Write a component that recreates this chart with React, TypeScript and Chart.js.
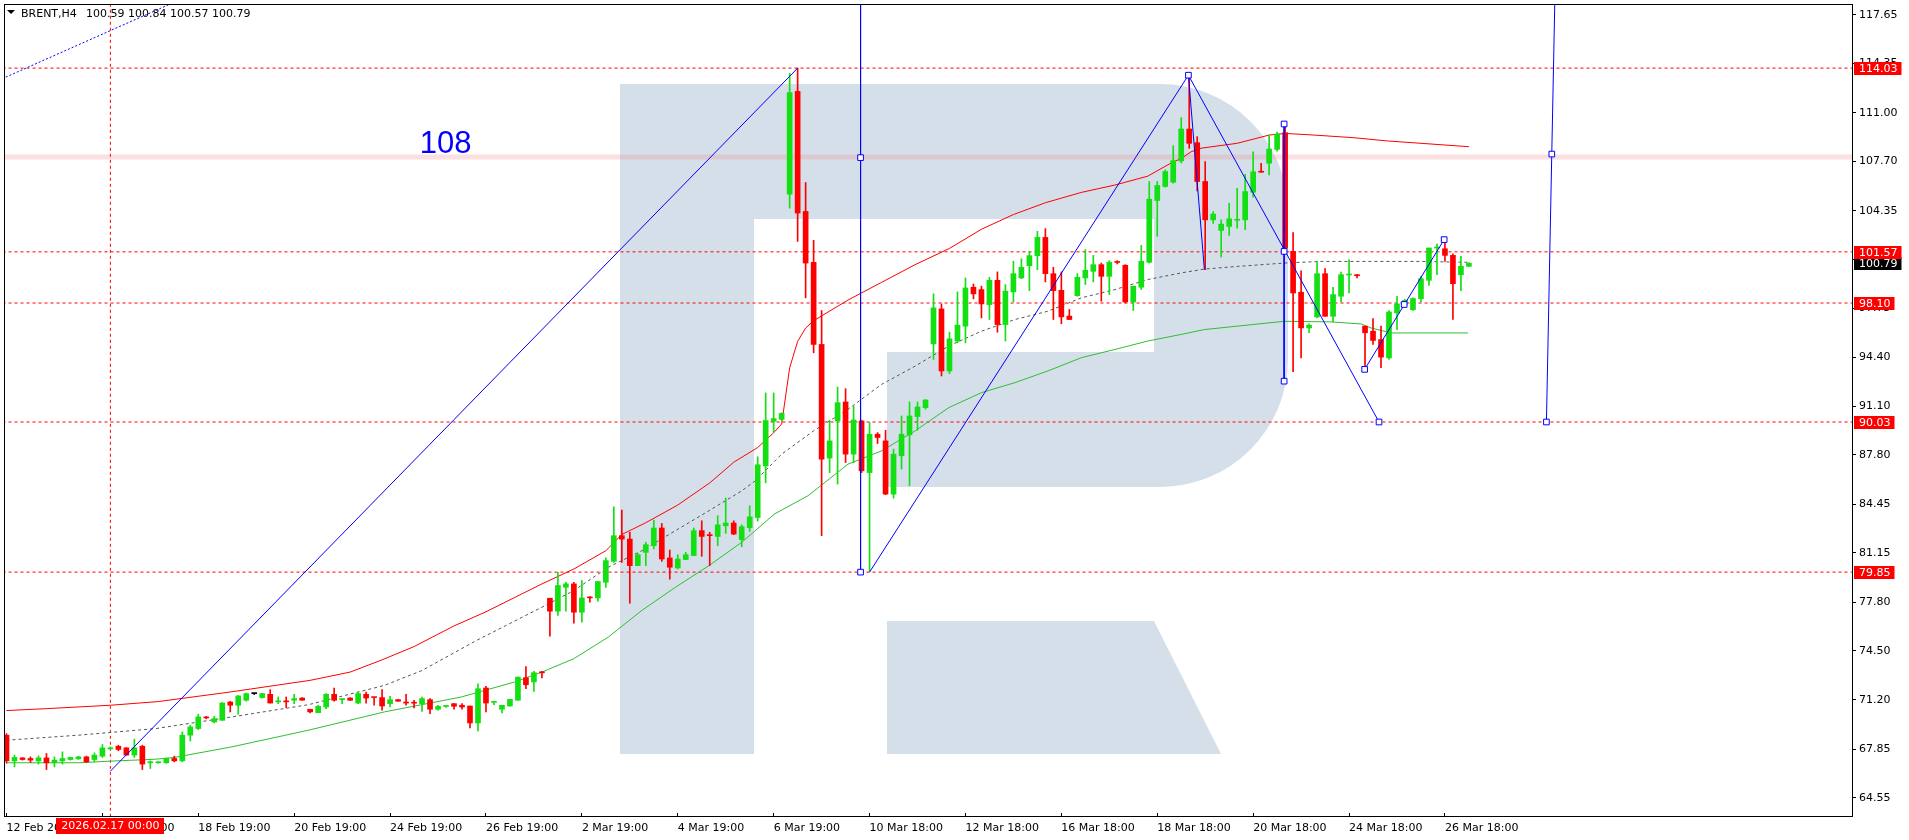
import React, { useEffect, useRef } from 'react';
import { Chart, registerables } from 'chart.js';

Chart.register(...registerables);

const FONT = 'DejaVu Sans';
const SYMBOL = 'BRENT';
const TIMEFRAME = 'H4';

// ---- candle data (one H4 bar per entry) ----
const opens = [
  68.79, 67.05, 67.25, 67.21, 67.05, 67.25, 66.92, 67.05, 67.14, 67.19,
  67.32, 67.14, 67.37, 67.86, 68.04, 67.93, 67.44, 68.04, 66.92, 66.92,
  66.92, 67.21, 67.05, 68.79, 69.24, 70.03, 69.69, 69.8, 71.04, 70.82,
  71.16, 71.61, 71.34, 71.56, 71.05, 71.09, 71.16, 71.31, 70.55, 70.32,
  70.7, 71.56, 71.2, 71.31, 70.97, 71.56, 71.35, 71.34, 70.93, 71.2,
  71.04, 70.98, 70.93, 71.2, 70.55, 70.74, 70.93, 70.82, 70.77, 69.62,
  71.99, 71.02, 70.55, 70.77, 71.16, 72.69, 72.4, 73.07, 78.08, 77.2,
  78.82, 79.05, 77.13, 78.12, 78.1, 79.16, 80.58, 82.32, 82.09, 80.29,
  81.19, 81.64, 82.84, 80.81, 80.13, 80.7, 80.97, 82.66, 82.33, 82.27,
  82.99, 83.18, 82.05, 82.86, 83.55, 87.05, 90.08, 90.21, 105.48, 112.45,
  104.31, 100.86, 95.29, 87.58, 90.1, 91.39, 87.85, 90.1, 86.6, 89.2,
  88.75, 85.14, 87.74, 89.16, 90.4, 91.0, 95.33, 97.7, 93.49, 95.52,
  96.53, 99.17, 99.01, 97.99, 99.64, 96.64, 98.85, 99.8, 100.63, 101.31,
  102.55, 100.09, 98.96, 97.21, 98.6, 99.8, 100.25, 100.7, 99.91, 100.87,
  100.66, 98.17, 99.17, 100.86, 105.05, 106.0, 106.29, 107.73, 109.9, 108.97,
  106.34, 103.74, 103.02, 103.29, 103.71, 103.74, 105.61, 107.0, 107.58, 108.52,
  109.65, 101.6, 98.83, 96.41, 97.16, 100.09, 97.2, 98.56, 100.0, 100.02,
  96.53, 96.19, 95.62, 94.38, 97.43, 97.99, 97.65, 98.4, 99.64, 101.83,
  101.78, 101.33, 100.02, 100.59,
];
const highs = [
  68.9, 67.44, 67.28, 67.32, 67.39, 67.55, 67.32, 67.66, 67.3, 67.37,
  67.37, 67.59, 68.16, 68.0, 68.11, 67.95, 68.52, 68.11, 67.05, 67.0,
  67.24, 67.37, 69.01, 69.46, 70.21, 70.07, 70.07, 71.02, 71.09, 71.49,
  71.65, 71.63, 71.63, 71.88, 71.38, 71.38, 71.56, 71.34, 70.55, 70.82,
  71.61, 71.99, 71.27, 71.34, 71.72, 71.72, 71.35, 71.88, 71.43, 71.22,
  71.56, 71.16, 71.38, 71.27, 70.82, 70.78, 70.93, 70.93, 70.77, 72.28,
  72.1, 71.09, 70.82, 71.22, 72.73, 73.45, 73.12, 73.12, 78.08, 79.84,
  79.16, 79.16, 79.27, 78.19, 79.21, 80.81, 84.28, 84.06, 82.55, 81.12,
  81.87, 83.38, 83.15, 81.35, 81.03, 81.19, 82.84, 83.33, 82.55, 83.67,
  84.87, 83.33, 83.06, 84.35, 87.67, 92.0, 92.0, 90.66, 113.67, 114.03,
  106.27, 102.35, 97.59, 90.15, 92.4, 92.29, 91.12, 90.15, 89.99, 89.31,
  89.47, 88.19, 90.44, 91.39, 91.39, 91.56, 98.72, 98.04, 96.12, 98.85,
  99.8, 99.39, 99.24, 99.84, 100.21, 99.35, 100.93, 101.1, 101.6, 102.96,
  103.14, 100.52, 100.21, 97.66, 100.09, 101.72, 101.33, 100.81, 100.97, 100.97,
  100.7, 99.24, 102.01, 106.34, 106.34, 107.13, 108.77, 110.67, 113.55, 109.38,
  107.69, 104.3, 103.74, 104.87, 105.88, 106.83, 108.36, 107.57, 109.49, 109.7,
  110.28, 102.88, 100.29, 96.68, 100.92, 100.43, 99.16, 100.2, 101.04, 100.02,
  96.53, 97.04, 96.53, 97.59, 98.56, 98.35, 98.45, 99.91, 101.83, 102.1,
  102.28, 101.44, 101.26, 100.84,
];
const lows = [
  66.9, 66.64, 67.1, 66.94, 66.83, 66.46, 66.64, 66.83, 67.1, 67.14,
  66.94, 66.98, 67.28, 67.82, 67.73, 67.44, 67.28, 66.46, 66.53, 66.88,
  66.88, 66.98, 66.98, 68.4, 69.17, 69.9, 69.62, 69.8, 70.37, 70.21,
  71.1, 71.55, 71.3, 70.97, 70.93, 70.66, 70.93, 71.16, 70.3, 70.32,
  70.59, 71.09, 70.93, 71.14, 70.93, 70.97, 70.82, 70.48, 70.7, 71.09,
  70.82, 70.64, 70.41, 70.25, 70.48, 70.68, 70.55, 70.55, 69.28, 69.08,
  70.37, 70.86, 70.3, 70.75, 71.16, 71.94, 71.76, 72.67, 75.51, 76.91,
  77.2, 76.39, 76.46, 77.81, 77.88, 78.82, 80.51, 80.51, 77.74, 80.29,
  80.29, 81.42, 80.58, 79.37, 80.06, 80.7, 80.97, 80.92, 80.29, 81.64,
  82.48, 82.39, 81.57, 82.61, 83.31, 85.9, 89.33, 90.13, 104.53, 102.28,
  98.45, 94.72, 82.32, 86.6, 85.82, 87.28, 87.28, 86.6, 79.9, 88.57,
  85.1, 84.87, 86.83, 85.71, 89.47, 90.9, 94.27, 93.15, 93.31, 95.4,
  95.4, 98.38, 97.09, 96.98, 96.12, 95.52, 98.17, 99.75, 98.94, 100.36,
  99.53, 96.98, 96.69, 96.98, 98.56, 99.35, 99.53, 98.22, 98.67, 100.75,
  98.1, 97.59, 99.01, 100.81, 102.62, 105.95, 106.23, 107.6, 108.59, 105.7,
  100.36, 103.5, 101.22, 102.68, 103.18, 103.07, 105.28, 106.97, 106.79, 108.4,
  101.5, 93.44, 94.38, 96.08, 97.09, 97.2, 96.82, 98.17, 98.78, 99.8,
  93.6, 95.29, 93.71, 94.27, 96.3, 97.9, 97.6, 98.17, 99.3, 100.02,
  100.92, 96.98, 98.94, 100.57,
];
const closes = [
  67.05, 67.28, 67.14, 67.1, 67.25, 66.92, 67.1, 67.21, 67.28, 67.32,
  66.98, 67.44, 67.93, 67.93, 67.82, 67.44, 67.93, 66.83, 66.98, 66.98,
  67.21, 67.05, 68.79, 69.35, 70.03, 69.96, 69.91, 70.97, 70.82, 71.45,
  71.61, 71.61, 71.61, 70.97, 71.09, 71.05, 71.27, 71.16, 70.37, 70.75,
  71.56, 71.16, 71.27, 71.16, 71.61, 71.31, 71.34, 70.77, 71.2, 71.09,
  70.97, 70.96, 71.27, 70.55, 70.75, 70.76, 70.75, 70.7, 69.62, 71.94,
  70.97, 71.05, 70.82, 71.22, 72.73, 72.21, 73.03, 73.02, 77.2, 78.94,
  79.05, 77.13, 78.1, 78.1, 79.21, 80.63, 82.32, 82.09, 80.29, 81.03,
  81.71, 82.84, 80.74, 80.18, 80.74, 81.03, 82.66, 82.27, 82.32, 83.06,
  83.18, 82.43, 82.93, 83.6, 87.13, 90.13, 90.26, 90.61, 112.37, 104.2,
  100.81, 95.29, 87.51, 88.75, 91.34, 87.85, 90.17, 86.72, 89.2, 88.98,
  85.14, 87.85, 89.2, 90.44, 91.05, 91.52, 97.77, 93.49, 95.67, 96.6,
  99.12, 98.72, 98.04, 99.64, 96.64, 98.9, 100.09, 100.52, 101.31, 102.55,
  100.09, 98.94, 97.16, 96.98, 99.84, 100.32, 100.7, 99.91, 100.86, 100.85,
  98.17, 99.24, 100.93, 105.14, 106.07, 107.02, 107.76, 109.9, 108.93, 106.34,
  103.74, 104.13, 103.45, 103.81, 103.74, 105.66, 107.0, 106.97, 108.54, 109.56,
  101.83, 98.78, 96.41, 96.59, 100.09, 97.2, 98.67, 100.02, 100.03, 99.95,
  96.08, 95.56, 94.43, 97.49, 98.04, 98.28, 98.4, 99.75, 101.83, 101.85,
  101.33, 99.41, 100.59, 100.79,
];

// ---- indicator lines (sampled at bar indices) ----
const redMaX = [0, 5, 13, 19, 28, 38, 43, 47, 51, 56, 60, 67, 71, 75, 77, 80, 84, 88, 91, 94, 96, 97, 98, 99, 100, 101, 105.3, 109.5, 113.7, 118, 122, 126, 130, 134.5, 138.7, 142.8, 145.75, 147, 148.25, 149.5, 154, 158, 160, 163.6, 168.6, 172.8, 177, 183];
const redMaY = [70.46, 70.59, 70.82, 71.07, 71.72, 72.51, 73.07, 73.9, 74.8, 76.2, 77.16, 79.05, 80.06, 81.3, 82.4, 83.2, 84.4, 85.9, 87.3, 88.3, 89.3, 89.9, 93.7, 95.5, 96.4, 96.9, 98.3, 99.5, 100.7, 101.8, 103.1, 104.1, 104.9, 105.6, 106.1, 106.7, 107.6, 107.9, 108.36, 108.6, 108.93, 109.49, 109.6, 109.49, 109.31, 109.09, 108.93, 108.7];
const grayMaX = [0, 9, 18.7, 28.2, 37.8, 47.3, 52, 58.8, 67.4, 71, 75.3, 79.5, 83.7, 87.9, 92, 93.7, 97, 101, 105.3, 109.5, 113.7, 117.9, 122, 126.2, 130.3, 134.5, 138.7, 142.8, 147, 149.9, 154, 159.9, 164.5, 170.75, 177, 182.9];
const grayMaY = [68.45, 68.79, 69.24, 70.03, 70.86, 72.17, 73.18, 75.21, 77.58, 78.6, 80.18, 81.3, 82.66, 84.01, 85.36, 86.04, 87.85, 89.43, 90.89, 92.58, 93.82, 95.18, 96.19, 96.98, 97.54, 98.45, 99.01, 99.69, 100.14, 100.4, 100.58, 100.81, 100.92, 100.92, 100.92, 100.86];
const greenMaX = [0, 9, 13, 18.6, 21, 28.2, 37.8, 47.3, 56.9, 63.6, 67, 71, 75.3, 79.5, 83.7, 87.9, 92, 96.1, 100.3, 105.3, 109.5, 113.7, 117.9, 122, 126.2, 130.3, 134.5, 138.7, 142.8, 147, 149.9, 154, 159.9, 165.75, 169.5, 170.75, 173.25, 182.9];
const greenMaY = [66.92, 66.92, 67.03, 67.16, 67.28, 68.0, 69.13, 70.37, 71.38, 72.4, 73.07, 73.98, 75.44, 77.25, 78.82, 80.29, 81.87, 83.79, 85.03, 87.17, 88.07, 89.43, 91.0, 92.02, 92.7, 93.49, 94.39, 94.95, 95.52, 95.97, 96.3, 96.53, 96.86, 96.82, 96.68, 96.41, 96.07, 96.07];

// ---- levels & drawings ----
const redLevels = [114.03, 101.57, 98.1, 90.03, 79.85];
const bandLevel = 108;
const bandText = '108';
const bandTextX = 51.7;
const timeLineIdx = 13;
const timeLineLabel = '2026.02.17 00:00';
// segments: [x1, y1, x2, y2] in bar index / price
const blueSegments = [
  [13, 66.35, 99, 114.03],
  [106.875, 119.5, 106.875, 79.85],
  [108, 79.85, 147.9, 113.55],
  [147.9, 113.55, 149.9, 100.36],
  [147.9, 113.55, 171.75, 90.03],
  [159.875, 110.24, 159.875, 92.8],
  [169.95, 93.6, 179.9, 102.4],
  [192.7, 90.03, 193.75, 118.6],
];
const dottedSegment = [-1, 113.2, 21, 118.5];
const markerX = [106.875, 106.875, 147.9, 159.875, 159.875, 159.875, 169.95, 174.9, 179.9, 171.75, 192.7, 193.37];
const markerY = [107.96, 79.85, 113.55, 110.24, 101.6, 92.8, 93.6, 98.0, 102.4, 90.03, 90.03, 108.2];

// ---- axes ----
const yTicks = [64.55, 67.85, 71.2, 74.5, 77.8, 81.15, 84.45, 87.8, 91.1, 94.4, 97.75, 101.05, 104.35, 107.7, 111.0, 114.35, 117.65];
const xTickIdx = [0, 12, 24, 36, 48, 60, 72, 84, 96, 108, 120, 132, 144, 156, 168, 180];
const xTickLabels = ['12 Feb 2026', '16 Feb 19:00', '18 Feb 19:00', '20 Feb 19:00', '24 Feb 19:00', '26 Feb 19:00', '2 Mar 19:00', '4 Mar 19:00', '6 Mar 19:00', '10 Mar 18:00', '12 Mar 18:00', '16 Mar 18:00', '18 Mar 18:00', '20 Mar 18:00', '24 Mar 18:00', '26 Mar 18:00'];

const UP = '#12e012';
const DOWN = '#ff0000';
const WATERMARK = '#d5dfea';

export default function App() {
  const ref = useRef<HTMLCanvasElement>(null);

  useEffect(() => {
    document.body.style.margin = '0';
    const canvas = ref.current;
    if (!canvas) return;
    const colorOf = (i: number) => (closes[i] === opens[i] ? '#000000' : closes[i] > opens[i] ? UP : DOWN);
    const toPts = (xs: number[], ys: number[]) => xs.map((x, i) => ({ x, y: ys[i] }));
    const lineDs = (data: any[], color: string, width: number, order: number, dash: number[] = []) => ({
      type: 'line',
      data,
      borderColor: color,
      borderWidth: width,
      borderDash: dash,
      pointRadius: 0,
      fill: false,
      tension: 0,
      order,
    });

    const datasets: any[] = [];
    datasets.push(lineDs([{ x: -2, y: bandLevel }, { x: 240, y: bandLevel }], 'rgba(240,130,130,0.25)', 5, 20));
    redLevels.forEach((lv) => datasets.push(lineDs([{ x: -2, y: lv }, { x: 240, y: lv }], '#ff0000', 1, 19, [3, 3])));
    datasets.push(lineDs([{ x: timeLineIdx, y: 60 }, { x: timeLineIdx, y: 120 }], '#ff0000', 1, 19, [3, 3]));
    datasets.push(lineDs(toPts(grayMaX, grayMaY), '#555555', 1, 15, [3, 3]));
    datasets.push(lineDs(toPts(redMaX, redMaY), '#ff0000', 1, 14));
    datasets.push(lineDs(toPts(greenMaX, greenMaY), '#2fbf2f', 1, 13));
    datasets.push({
      type: 'bar',
      data: opens.map((_, i) => ({ x: i, y: [lows[i], highs[i]] })),
      backgroundColor: (c: any) => colorOf(c.dataIndex),
      barThickness: 1,
      grouped: false,
      minBarLength: 1,
      borderWidth: 0,
      order: 6,
    });
    datasets.push({
      type: 'bar',
      data: opens.map((_, i) => ({ x: i, y: [opens[i], closes[i]] })),
      backgroundColor: (c: any) => colorOf(c.dataIndex),
      barThickness: 5,
      grouped: false,
      minBarLength: 1,
      borderWidth: 0,
      order: 5,
    });
    blueSegments.forEach((s) => datasets.push(lineDs([{ x: s[0], y: s[1] }, { x: s[2], y: s[3] }], '#0000ff', 1, 3)));
    datasets.push(lineDs([{ x: dottedSegment[0], y: dottedSegment[1] }, { x: dottedSegment[2], y: dottedSegment[3] }], '#0000ff', 1, 3, [2, 2]));
    datasets.push({
      type: 'line',
      data: toPts(markerX, markerY),
      showLine: false,
      pointStyle: 'rect',
      pointRadius: 4,
      pointBorderWidth: 1,
      pointBorderColor: '#0000ff',
      pointBackgroundColor: '#ffffff',
      order: 1,
    });

    const bgPlugin = {
      id: 'bg',
      beforeDraw(chart: any) {
        const ctx = chart.ctx;
        ctx.save();
        ctx.fillStyle = '#ffffff';
        ctx.fillRect(0, 0, chart.width, chart.height);
        // logo watermark
        ctx.fillStyle = WATERMARK;
        ctx.fillRect(620, 84, 134, 670);
        ctx.beginPath();
        ctx.moveTo(754, 84);
        ctx.lineTo(1160, 84);
        ctx.arcTo(1288, 84, 1288, 212, 128);
        ctx.lineTo(1288, 359);
        ctx.arcTo(1288, 487, 1160, 487, 128);
        ctx.lineTo(887, 487);
        ctx.lineTo(887, 352);
        ctx.lineTo(1154, 352);
        ctx.lineTo(1154, 219);
        ctx.lineTo(754, 219);
        ctx.closePath();
        ctx.fill();
        ctx.beginPath();
        ctx.moveTo(887, 621);
        ctx.lineTo(1154, 621);
        ctx.lineTo(1221, 754);
        ctx.lineTo(887, 754);
        ctx.closePath();
        ctx.fill();
        ctx.restore();
      },
    };

    const overlayPlugin = {
      id: 'overlay',
      afterDraw(chart: any) {
        const { ctx, chartArea: a, scales } = chart;
        const xs = scales.x;
        const ys = scales.y;
        ctx.save();
        // frame
        ctx.strokeStyle = '#000';
        ctx.lineWidth = 1;
        ctx.strokeRect(a.left - 0.5, a.top - 0.5, a.right - a.left + 1, a.bottom - a.top + 1);
        // x tick marks (inside)
        ctx.beginPath();
        xTickIdx.forEach((v) => {
          const px = Math.floor(xs.getPixelForValue(v)) + 0.5;
          ctx.moveTo(px, a.bottom - 3);
          ctx.lineTo(px, a.bottom + 1);
        });
        ctx.stroke();
        // header
        ctx.fillStyle = '#000';
        ctx.beginPath();
        ctx.moveTo(7, 10);
        ctx.lineTo(15, 10);
        ctx.lineTo(11, 14);
        ctx.closePath();
        ctx.fill();
        ctx.font = `11px "${FONT}"`;
        ctx.textBaseline = 'alphabetic';
        ctx.textAlign = 'left';
        ctx.fillText(`${SYMBOL},${TIMEFRAME}`, 21, 17);
        const last = opens.length - 1;
        ctx.fillText(`${opens[last].toFixed(2)} ${highs[last].toFixed(2)} ${lows[last].toFixed(2)} ${closes[last].toFixed(2)}`, 86, 17);
        // band text
        ctx.fillStyle = '#0000ff';
        ctx.font = '31px "Liberation Sans"';
        ctx.fillText(bandText, xs.getPixelForValue(bandTextX), ys.getPixelForValue(bandLevel) - 4);
        // price labels
        ctx.font = `11px "${FONT}"`;
        ctx.textBaseline = 'middle';
        const box = (v: number, bg: string) => {
          const y = Math.round(ys.getPixelForValue(v));
          const t = v.toFixed(2);
          const w = ctx.measureText(t).width;
          ctx.fillStyle = bg;
          ctx.fillRect(a.right + 2, y - 6, w + 9, 13);
          ctx.fillStyle = '#ffffff';
          ctx.fillText(t, a.right + 7, y + 1);
        };
        box(closes[last], '#000000');
        redLevels.forEach((lv) => box(lv, '#ff0000'));
        // time label
        const px = xs.getPixelForValue(timeLineIdx);
        const tw = ctx.measureText(timeLineLabel).width;
        ctx.fillStyle = '#ff0000';
        ctx.fillRect(Math.round(px - tw / 2 - 5), a.bottom + 2, Math.round(tw + 10), 16);
        ctx.fillStyle = '#ffffff';
        ctx.textAlign = 'center';
        ctx.fillText(timeLineLabel, px, a.bottom + 10.5);
        ctx.restore();
      },
    };

    const chart = new Chart(canvas, {
      type: 'bar',
      data: { datasets },
      options: {
        animation: false,
        responsive: false,
        devicePixelRatio: 1,
        events: [],
        layout: { padding: { left: 3, top: 3, right: 0, bottom: 0 } },
        plugins: { legend: { display: false }, tooltip: { enabled: false }, title: { display: false } },
        scales: {
          x: {
            type: 'linear',
            min: -0.1875,
            max: 230.9375,
            bounds: 'data',
            offset: false,
            grid: { display: false },
            border: { display: false },
            afterBuildTicks: (s: any) => {
              s.ticks = xTickIdx.map((v) => ({ value: v }));
            },
            afterFit: (s: any) => {
              s.height = 24;
              s.paddingLeft = 0;
              s.paddingRight = 0;
              s.paddingTop = 0;
              s.paddingBottom = 0;
            },
            ticks: {
              autoSkip: false,
              maxRotation: 0,
              minRotation: 0,
              align: 'start',
              padding: -2,
              color: '#000',
              font: { family: FONT, size: 11 },
              callback: (_v: any, i: number) => xTickLabels[i],
            },
          },
          y: {
            type: 'linear',
            position: 'right',
            min: 63.31,
            max: 118.31,
            bounds: 'data',
            grid: { display: true, drawOnChartArea: false, drawTicks: true, tickLength: 4, color: '#000' },
            border: { display: false },
            afterBuildTicks: (s: any) => {
              s.ticks = yTicks.map((v) => ({ value: v }));
            },
            afterFit: (s: any) => {
              s.width = 57;
              s.paddingTop = 0;
              s.paddingBottom = 0;
              s.paddingLeft = 0;
              s.paddingRight = 0;
            },
            ticks: {
              autoSkip: false,
              padding: 3,
              color: '#000',
              font: { family: FONT, size: 11 },
              callback: (v: any) => Number(v).toFixed(2),
            },
          },
        },
      } as any,
      plugins: [bgPlugin, overlayPlugin],
    } as any);

    return () => chart.destroy();
  }, []);

  return (
    <div style={{ width: 1909, height: 840 }}>
      <canvas ref={ref} width={1909} height={840} style={{ display: 'block' }} />
    </div>
  );
}
